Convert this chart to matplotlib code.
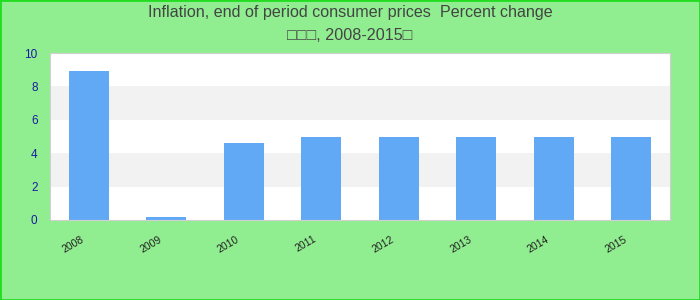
import matplotlib
matplotlib.use("Agg")
import matplotlib.pyplot as plt
from matplotlib.patches import Rectangle

years = ["2008", "2009", "2010", "2011", "2012", "2013", "2014", "2015"]
inflation = [8.9, 0.2, 4.6, 5.0, 5.0, 5.0, 5.0, 5.0]
yticks = [0, 2, 4, 6, 8, 10]

title1 = "Inflation, end of period consumer prices  Percent change"
title2 = "\u25a1\u25a1\u25a1, 2008-2015\u25a1"

plt.rcParams['font.family'] = ['Liberation Sans', 'DejaVu Sans']

fig = plt.figure(figsize=(7, 3), dpi=100, facecolor="#90ee90")
# outer border
fig.patches.append(Rectangle((0, 0), 1, 1, transform=fig.transFigure, fill=False,
                             edgecolor="#22dd22", linewidth=2))

ax = fig.add_axes([50 / 700, 1 - 220 / 300, 620 / 700, 167 / 300])
ax.set_facecolor("white")

# alternating bands
for i in range(len(yticks) - 1):
    if i % 2 == 1:
        ax.axhspan(yticks[i], yticks[i + 1], color="#f2f2f2", zorder=0, linewidth=0)

x = range(len(years))
ax.bar(x, inflation, width=0.52, color="#62a9f5", zorder=2)

ax.set_xlim(-0.5, len(years) - 0.5)
ax.set_ylim(0, 10)
ax.set_yticks(yticks)
ax.set_xticks(list(x))
ax.set_xticklabels([])
# rotated year labels, shifted left of the tick like the original
for i, yr in zip(x, years):
    ax.annotate(yr, xy=(i, 0), xycoords=("data", "axes fraction"),
                xytext=(-3, -14), textcoords="offset pixels",
                ha="right", va="top", rotation=30, fontsize=7.5, color="#222222")
ax.tick_params(axis="y", labelsize=8.5, colors="#1a1aa0", length=0, pad=9)
ax.tick_params(axis="x", length=0)
for s in ax.spines.values():
    s.set_color("#d0d0d0")

fig.text(0.5, 1 - 13 / 300, title1, ha="center", va="center", fontsize=11.6, color="#444444")
fig.text(0.5, 1 - 35 / 300, title2, ha="center", va="center", fontsize=11.6, color="#444444")

fig.savefig("out.png", dpi=100, facecolor=fig.get_facecolor())
